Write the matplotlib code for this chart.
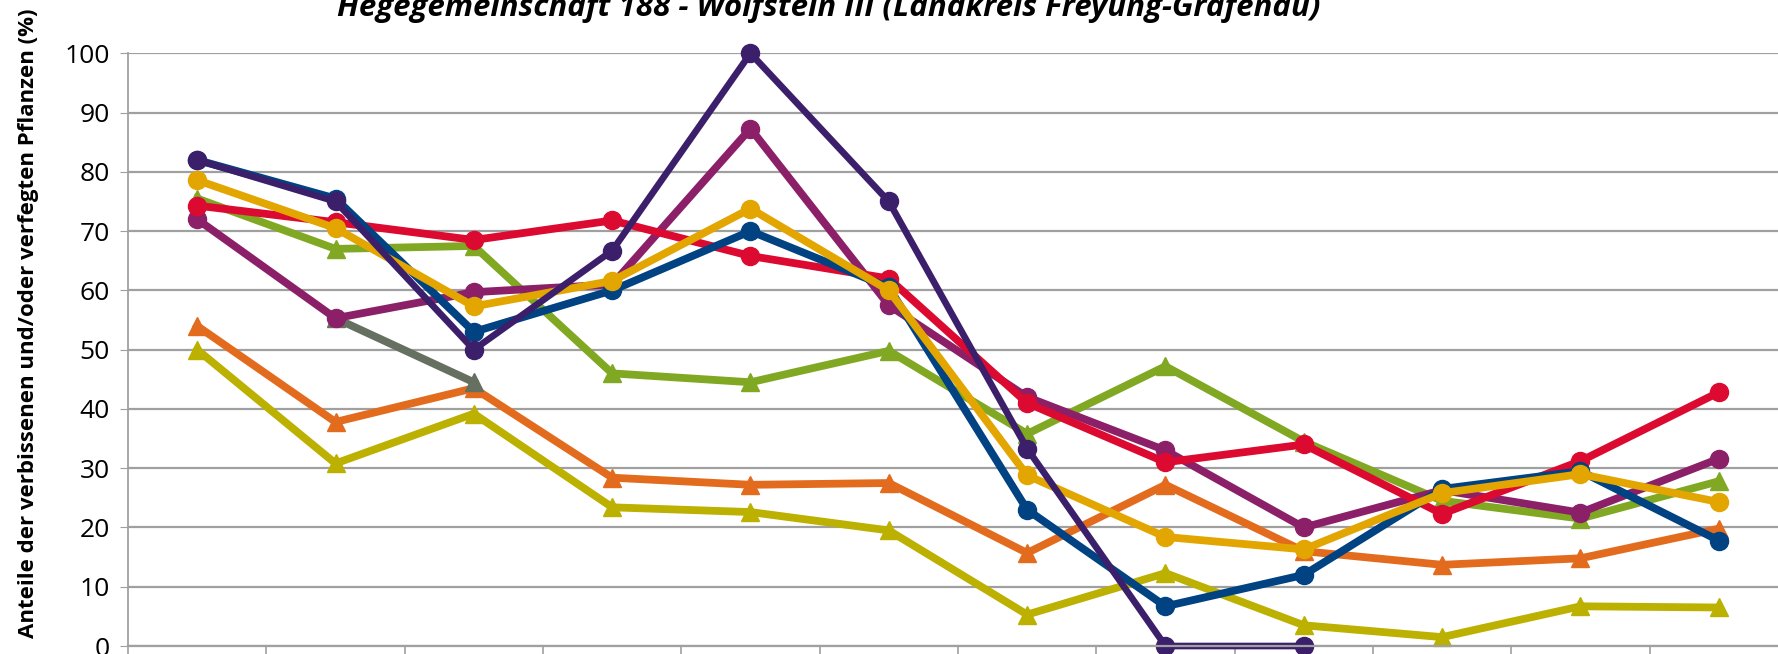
import numpy as np
import matplotlib.pyplot as plt

nan = np.nan
x = np.arange(1, 13)

# circle-marker series
s_indigo = [82, 75, 50, 66.7, 100, 75, 33.3, 0, 0, nan, nan, nan]
s_blue = [82, 75.5, 53, 60, 70, 60.5, 23, 6.7, 12, 26.5, 29.5, 17.8]
s_red = [74.3, 71.5, 68.5, 71.8, 65.8, 62, 41, 31, 34, 22.3, 31.2, 42.8]
s_plum = [72, 55.3, 59.7, 61, 87.3, 57.5, 42, 33, 20, 26.3, 22.5, 31.6]
s_gold = [78.6, 70.5, 57.3, 61.6, 73.8, 60, 28.8, 18.4, 16.3, 25.8, 29, 24.3]

# triangle-marker series
s_green = [75.5, 67, 67.5, 46, 44.5, 49.8, 35.8, 47.2, 34.5, 24.5, 21.5, 27.8]
s_grey = [nan, 55.3, 44.5, nan, nan, nan, nan, nan, nan, nan, nan, nan]
s_orange = [54, 37.8, 43.5, 28.4, 27.2, 27.5, 15.7, 27.2, 16, 13.7, 14.8, 19.8]
s_olive = [50, 30.8, 39.2, 23.4, 22.6, 19.5, 5.3, 12.3, 3.5, 1.5, 6.7, 6.5]

fig = plt.figure(figsize=(17.78, 6.54), dpi=100)
ax = fig.add_axes([0.072, 0.0122, 0.9336, 0.9063])

ax.set_ylim(0, 100)
ax.set_xlim(0.5, 12.5)
ax.set_yticks(range(0, 101, 10))
ax.set_xticks(np.arange(0.5, 12.6, 1))
ax.set_xticklabels([])
ax.yaxis.grid(True, color='#a0a0a0', linewidth=1.6)
ax.set_axisbelow(True)
for s in ['top', 'right']:
    ax.spines[s].set_visible(False)
ax.spines['left'].set_color('#a0a0a0')
ax.spines['bottom'].set_color('#a0a0a0')
ax.spines['left'].set_linewidth(1.3)
ax.spines['bottom'].set_linewidth(1.6)
ax.tick_params(axis='y', length=6, color='#a0a0a0', labelsize=19, pad=7)
ax.tick_params(axis='x', length=9, color='#a0a0a0', width=1.2)
for lab in ax.get_yticklabels():
    lab.set_fontfamily('Open Sans')

lw = 5.6
ms = 13
ax.plot(x, s_olive, color='#bcb000', lw=lw, marker='^', ms=ms)
ax.plot(x, s_orange, color='#e36b1e', lw=lw, marker='^', ms=ms)
ax.plot(x, s_grey, color='#667060', lw=lw, marker='^', ms=ms)
ax.plot(x, s_green, color='#80a822', lw=lw, marker='^', ms=ms)
ax.plot(x, s_plum, color='#8c2068', lw=lw, marker='o', ms=ms)
ax.plot(x, s_red, color='#dc0a30', lw=lw, marker='o', ms=ms)
ax.plot(x, s_blue, color='#004282', lw=lw, marker='o', ms=ms)
ax.plot(x, s_gold, color='#e3a500', lw=lw, marker='o', ms=ms)
ax.plot(x, s_indigo, color='#3c1f6b', lw=4.8, marker='o', ms=ms)

for ln in ax.lines:
    ln.set_clip_on(False)

fig.text(0.466, 0.9755, 'Hegegemeinschaft 188 - Wolfstein III (Landkreis Freyung-Grafenau)',
         ha='center', va='baseline', fontsize=22.5, fontweight='bold', fontstyle='italic',
         family='Open Sans')
fig.text(0.016, 0.505, 'Anteile der verbissenen und/oder verfegten Pflanzen (%)',
         rotation=90, ha='center', va='center', fontsize=16, fontweight='bold',
         family='Open Sans')

fig.savefig('out.png', dpi=100)
